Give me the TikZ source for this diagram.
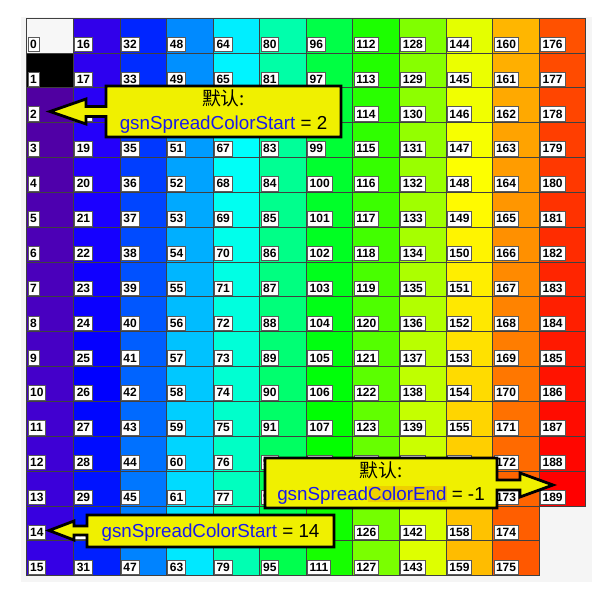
\documentclass[tikz,border=0pt]{standalone}
\usepackage{fontspec}
\setsansfont{Liberation Sans}
\newfontfamily\cjk{Noto Sans CJK SC}
\definecolor{bgray}{HTML}{F5F5F5}
\definecolor{cyel}{HTML}{F0F000}
\definecolor{cblue}{RGB}{25,25,235}
\definecolor{hil}{RGB}{238,208,0}
\begin{document}
\begin{tikzpicture}[x=1pt,y=-1pt,
  gridl/.style={draw=black!75,line width=0.7pt},
  numlabel/.style={fill=white,draw=black!65,line width=0.6pt,inner xsep=2.2pt,inner ysep=0pt,
    minimum height=14.5pt,anchor=south west,font=\sffamily\bfseries\fontsize{12}{12}\selectfont},
  callout/.style={fill=cyel,draw=black,line width=2.8pt,line join=miter},
  ctext/.style={inner sep=0pt,anchor=base,font=\sffamily\fontsize{18.8}{22}\selectfont}]
\useasboundingbox (0,0) rectangle (602,597);
\fill[white] (0,0) rectangle (602,597);
\fill[bgray] (21,16.7) rectangle (591.7,581.7);
\foreach \c in {0,...,11}{
  \foreach \r in {0,...,15}{
    \pgfmathtruncatemacro\i{\c*16+\r}
    \ifnum\i<190
      \pgfmathsetmacro\xl{26.7+\c*46.58}
      \pgfmathsetmacro\yt{18+\r*34.85}
      \ifnum\i=0 \colorlet{cc}{white!97!black}%
      \else\ifnum\i=1 \colorlet{cc}{black}%
      \else
        \ifnum\i<26
          \pgfmathsetmacro\hh{240+(26-\i)*1.25}
          \pgfmathsetmacro\bb{min(1,0.63+(\i-2)*0.37/18)}
        \else
          \pgfmathsetmacro\hh{max(0,240-(\i-26)*1.4724)}
          \def\bb{1}
        \fi
        \definecolor{cc}{Hsb}{\hh,1,\bb}%
      \fi\fi
      \fill[cc] (\xl,\yt) rectangle ++(46.58,34.85);
      \draw[gridl] (\xl,\yt) rectangle ++(46.58,34.85);
      \node[numlabel] (l\i) at (\xl+1,\yt+33.85) {\i};
    \fi
  }
}
% callout 1
\draw[callout] (106,86) -- (341,86) -- (341,137) -- (106,137) -- (106,116.5) -- (86,116.5)
  -- (86,124) -- (50,111.5) -- (86,99) -- (86,106.5) -- (106,106.5) -- cycle;
\node[ctext] (t1a) at (223.5,105) {\cjk 默认:};
\node[ctext] (t1b) at (223.5,129.3) {\textcolor{cblue}{gsnSpreadColorStart} = 2};
% callout 2
\draw[callout] (265,458) -- (497,458) -- (497,480) -- (520,480) -- (520,473) -- (553,485)
  -- (520,497) -- (520,490) -- (497,490) -- (497,508) -- (265,508) -- cycle;
\node[ctext] (t2a) at (381,477) {\cjk 默认:};
\node[ctext] (t2b) at (381,500.5) {\setlength\fboxsep{0pt}\textcolor{cblue}{gsnSpread\colorbox{hil}{\rule[-1.2pt]{0pt}{16pt}ColorEnd}} = -1};
% callout 3
\draw[callout] (87,515) -- (334,515) -- (334,547) -- (87,547) -- (87,535) -- (74,535)
  -- (74,540) -- (49,530.5) -- (74,521) -- (74,526) -- (87,526) -- cycle;
\node[ctext] (t3) at (210.5,537.3) {\textcolor{cblue}{gsnSpreadColorStart} = 14};
\end{tikzpicture}
\end{document}
